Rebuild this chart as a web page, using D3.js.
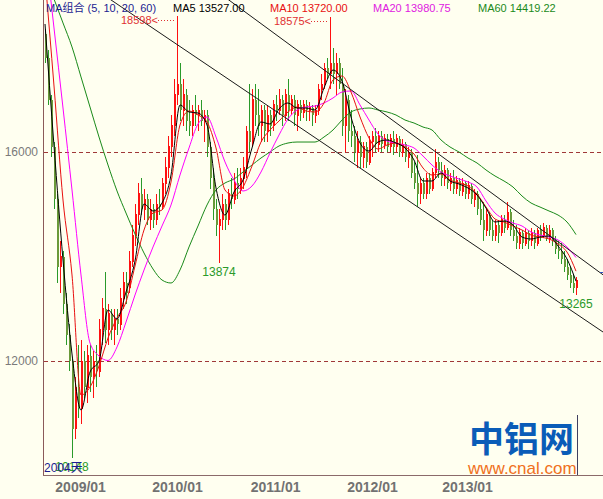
<!DOCTYPE html>
<html><head><meta charset="utf-8">
<script src="https://cdn.jsdelivr.net/npm/d3@7"></script>
<style>
html,body{margin:0;padding:0;background:#fffff0;}
svg{display:block;}
text{font-family:"Liberation Sans",Arial,"Noto Sans CJK SC",sans-serif;}
</style></head><body>
<svg id="c" width="603" height="499"></svg>
<script>
// ---- data (bars are compressed periods) ----
const openP=[18250,17800,17000,16100,15100,13800,14000,13100,12500,12000,
10700,11500,11100,12000,11500,12100,11700,12000,11800,12600,
13000,12600,12900,12600,12800,12700,13200,13500,13400,13900,
14400,14800,15200,14900,15100,14700,14900,14700,15000,14950,
15400,15700,16100,16500,17100,17300,16800,17100,16600,16500,
16800,16700,16800,16600,16700,16100,15500,14900,14600,14700,
15000,14700,15200,15100,15400,15300,15500,15700,16400,16200,
17000,16700,16500,16800,16400,16700,16500,16900,16800,17000,
16700,17100,16800,17000,16700,16900,16750,16900,16800,16850,
16700,16800,17200,17300,17600,17500,17700,17500,17700,17300,
16500,17000,16400,16300,16000,16200,15900,16100,15800,16200,
16300,16150,16300,16150,16250,16100,16250,16100,16250,16000,
16150,15900,16000,15600,15400,15200,15400,15200,15500,15300,
15600,15800,15650,15500,15650,15400,15500,15300,15450,15250,
15400,15200,15350,15100,15200,14900,14700,14500,14800,14500,
14400,14600,14450,14700,14550,14850,14500,14400,14250,14450,
14250,14450,14300,14450,14250,14500,14400,14550,14350,14500,
14300,14150,14100,13950,13800,13650,13500,13400];
const highP=[18350,17950,17100,16200,15200,14300,14100,13300,12700,12050,
11700,12300,12400,12200,12300,12300,12200,12300,12800,13200,
13700,13100,13000,13000,13000,13400,13700,13700,14100,14600,
15000,15400,15500,15300,15200,15100,15000,15200,15300,15500,
15900,16300,16700,17400,18598,17700,17400,17200,17000,16900,
17100,16900,17000,16800,16800,16200,15700,15100,14900,15200,
15100,15300,15500,15600,15700,15700,15900,16500,17300,17200,
17300,17200,16900,16900,16900,16800,17000,17100,17200,17100,
17200,17400,17100,17100,17000,17000,17000,17000,16950,16900,
16900,17300,17500,17700,17800,18575,18000,17900,17800,17600,
17200,17100,16800,16500,16400,16300,16200,16200,16300,16400,
16450,16400,16400,16350,16350,16350,16400,16350,16300,16250,
16200,16100,16050,15800,15950,15500,15500,15600,15600,15700,
16050,15900,15800,15750,15700,15600,15650,15550,15500,15500,
15450,15450,15400,15300,15250,15100,15050,14900,14850,14700,
14700,14700,14800,14800,15050,14900,14700,14600,14550,14500,
14550,14500,14550,14500,14550,14600,14650,14600,14600,14550,
14400,14300,14250,14100,13950,13800,13650,13600];
const lowP=[17700,16900,15900,14900,13500,13300,12900,12300,11800,10148,
10500,10900,10800,11300,11200,11400,11300,11500,11700,12300,
12350,12300,12400,12300,12500,12600,13000,13100,13300,13800,
14200,14600,14800,14700,14600,14500,14550,14600,14800,14900,
15200,15500,15900,16300,16900,16600,16500,16400,16300,16300,
16500,16400,16500,16200,15900,15300,14700,14400,13874,14500,
14500,14600,14900,15000,15100,15200,15300,15500,16000,16100,
16500,16300,16200,16200,16200,16300,16400,16600,16700,16500,
16600,16600,16700,16500,16400,16600,16650,16600,16600,16500,
16550,16700,17000,17200,17400,17200,17300,17100,17200,16300,
16000,16200,16100,15800,15700,15700,15700,15700,15750,15900,
16000,16000,16000,16050,16000,16000,15950,16000,15900,15900,
15800,15700,15500,15300,14950,15000,15100,15100,15200,15250,
15500,15500,15350,15350,15300,15250,15200,15200,15150,15150,
15100,15100,15000,14950,14800,14600,14300,14400,14400,14300,
14300,14250,14400,14450,14500,14400,14300,14150,14150,14150,
14200,14150,14200,14150,14200,14300,14350,14300,14250,14200,
14050,13950,13850,13700,13550,13400,13300,13265];
const closeP=[17800,17000,16100,15100,13800,14000,13100,12500,12000,10700,
11500,11100,12000,11500,12100,11700,12000,11800,12600,13000,
12600,12900,12600,12800,12700,13200,13500,13300,13900,14400,
14800,15200,14900,15100,14700,14900,14700,15000,14950,15400,
15700,16100,16500,17100,17300,16800,17100,16600,16500,16800,
16700,16800,16600,16700,16100,15500,14900,14600,14700,15000,
14700,15200,15100,15400,15300,15500,15700,16400,16200,17000,
16700,16500,16800,16400,16700,16500,16900,16800,17000,16700,
17100,16800,17000,16700,16900,16750,16900,16800,16850,16700,
16800,17200,17300,17600,17500,17700,17500,17700,17300,16500,
17000,16400,16300,16000,16200,15900,16100,15800,16200,16300,
16150,16300,16150,16250,16100,16250,16100,16250,16000,16150,
15900,16000,15600,15400,15200,15400,15200,15500,15300,15600,
15800,15650,15500,15650,15400,15500,15300,15450,15250,15400,
15200,15350,15100,15200,14900,14700,14500,14800,14500,14400,
14600,14450,14700,14550,14850,14500,14400,14250,14450,14250,
14450,14300,14450,14250,14500,14400,14550,14350,14500,14300,
14150,14100,13950,13800,13650,13500,13400,13550];

// moving averages, sampled every 3 bars
const maStride=3;
const ma5=[18450,16115,13933,12134,11062,11789,12000,12976,12804,13320,13914,15005,14871,15024,15560,16900,16766,16746,16517,15311,14794,15234,15464,16077,16574,16536,16823,16938,16842,16842,16804,17225,17569,17359,16670,16172,16019,16191,16230,16172,16077,15847,15445,15445,15598,15445,15388,15311,15177,14928,14660,14679,14603,14373,14335,14373,14392,14201,13952,13527.00];
const ma10=[19350,17263,15081,13646,11349,11502,11904,12440,12823,13129,13818,14507,14832,14890,15426,16517,16785,16708,16574,16077,15273,15158,15330,15732,16191,16421,16593,16766,16861,16785,16766,16938,17378,17455,17148,16670,16268,16057,16134,16172,16096,15962,15694,15560,15579,15464,15407,15349,15196,14947,14718,14660,14584,14507,14411,14373,14335,14239,14086,13720.00];
const ma20=[19900,18373,16842,15273,13646,12344,12096,12010,12268,12746,13263,13741,14182,14584,14986,15560,16077,16536,16670,16287,15809,15464,15254,15349,15617,15981,16325,16632,16804,16861,16880,16938,17034,17148,17168,16900,16612,16345,16211,16172,16134,16077,15923,15751,15617,15541,15483,15426,15330,15062,14832,14718,14641,14584,14469,14411,14373,14316,14182,13980.75];
const ma60=[19390,18928,18469,18010,17436,16861,16287,15751,15254,14832,14431,14067,13761,13550,13493,13742,14182,14584,14986,15273,15407,15483,15617,15751,15885,16000,16115,16172,16191,16191,16191,16287,16421,16612,16766,16823,16842,16804,16766,16708,16612,16555,16478,16421,16230,16096,16000,15885,15790,15656,15541,15445,15330,15158,15024,14947,14871,14794,14660,14419.22];
const maNames=["MA5","MA10","MA20","MA60"];

const tickLabels=["2009/01","2010/01","2011/01","2012/01","2013/01"];
const tickBars=[11.7,44,76.7,109,140.7];
const priceTicks=[12000,16000];
const highMarks=[44,95];
const lowMarks=[9,58,177];
// hand-drawn channel lines: [bar, price] end points
const channelA=[[0,19763],[186,12555]];
const channelB=[[0,21493],[186,13650]];
const titleLabel="MA组合 (5, 10, 20, 60)";
const periodLabel="2004天";

// ---- drawing ----
const svg=d3.select("#c");
const N=closeP.length;
const pL=43, pR=603, pT=0, pB=475;
const x=d3.scaleLinear().domain([0,N-1]).range([45,576]);
const y=d3.scaleLinear().domain([12000,16000]).range([361,152]);

svg.append("rect").attr("width",603).attr("height",499).attr("fill","#fffff0");
svg.append("defs").append("clipPath").attr("id","clip")
  .append("rect").attr("x",pL+1).attr("y",pT).attr("width",pR-pL-1).attr("height",pB-pT);

const plot=svg.append("g").attr("clip-path","url(#clip)");

// dashed grid
plot.selectAll("line.grid").data(priceTicks).join("line")
  .attr("x1",pL+1).attr("x2",pR)
  .attr("y1",d=>Math.round(y(d))+0.5).attr("y2",d=>Math.round(y(d))+0.5)
  .attr("stroke","#a03838").attr("stroke-dasharray","4,3");

// candles
const RED="#ff1010", GREEN="#2a9a2a";
const bars=d3.range(N).map(i=>({i,o:openP[i],h:highP[i],l:lowP[i],c:closeP[i]}));
const cg=plot.append("g").attr("shape-rendering","crispEdges");
cg.selectAll("line").data(bars).join("line")
  .attr("x1",d=>Math.round(x(d.i))+0.5).attr("x2",d=>Math.round(x(d.i))+0.5)
  .attr("y1",d=>y(d.h)).attr("y2",d=>y(d.l))
  .attr("stroke",d=>d.c>=d.o?RED:GREEN);
cg.selectAll("rect").data(bars).join("rect")
  .attr("x",d=>Math.round(x(d.i))+(d.c>=d.o?0.5:0))
  .attr("width",d=>d.c>=d.o?1:2)
  .attr("y",d=>y(Math.max(d.o,d.c)))
  .attr("height",d=>Math.max(1,Math.abs(y(d.o)-y(d.c))))
  .attr("fill",d=>d.c>=d.o?"none":"#6a9a3a")
  .attr("stroke",d=>d.c>=d.o?RED:"none");

// moving averages
const maColors={MA5:"#000000",MA10:"#e81010",MA20:"#ff00ff",MA60:"#1a8a1a"};
const maByName={MA5:ma5,MA10:ma10,MA20:ma20,MA60:ma60};
const line=d3.line().x((d,j)=>x(j*maStride)).y(d=>y(d)).curve(d3.curveMonotoneX);
["MA60","MA20","MA10","MA5"].forEach(n=>{
  plot.append("path").datum(maByName[n]).attr("d",line)
    .attr("fill","none").attr("stroke",maColors[n]).attr("stroke-width",1);
});

// channel lines
[channelA,channelB].forEach(c=>{
  plot.append("line")
    .attr("x1",x(c[0][0])).attr("y1",y(c[0][1]))
    .attr("x2",x(c[1][0])).attr("y2",y(c[1][1]))
    .attr("stroke","#1a1a1a").attr("stroke-width",1);
});

// axes lines
svg.append("line").attr("x1",pL+0.5).attr("x2",pL+0.5).attr("y1",pT).attr("y2",pB+0.5)
  .attr("stroke","#8b5a5a");
svg.append("line").attr("x1",pL).attr("x2",pR).attr("y1",pB+0.5).attr("y2",pB+0.5)
  .attr("stroke","#8b6a6a");

// x axis labels
const xa=svg.append("g").attr("transform",`translate(0,${pB})`)
  .call(d3.axisBottom(x).tickValues(tickBars).tickFormat((d,i)=>tickLabels[i]).tickSize(0).tickPadding(7));
xa.select(".domain").remove();
xa.selectAll("text").attr("font-size",14).attr("font-weight","bold").attr("fill","#727272")
  .attr("font-family","Liberation Sans, Arial, sans-serif");

// y axis labels
const ya=svg.append("g").attr("transform",`translate(${pL},0)`)
  .call(d3.axisLeft(y).tickValues(priceTicks).tickFormat(d3.format("d")).tickSize(0).tickPadding(5));
ya.select(".domain").remove();
ya.selectAll("text").attr("font-size",12).attr("fill","#7a7a7a")
  .attr("font-family","Liberation Sans, Arial, sans-serif");

// legend text
svg.append("text").attr("x",46).attr("y",12).attr("font-size",11).attr("fill","#1c1c90").text(titleLabel);
const legendX={MA5:173,MA10:270,MA20:373,MA60:478};
const legendColors={MA5:"#000000",MA10:"#e81010",MA20:"#e020e0",MA60:"#1a8a1a"};
const fmt=d3.format(".2f");
maNames.forEach(n=>{
  const arr=maByName[n];
  svg.append("text").attr("x",legendX[n]).attr("y",12).attr("font-size",11)
    .attr("fill",legendColors[n]).text(n+" "+fmt(arr[arr.length-1]));
});

// high markers
highMarks.forEach(i=>{
  const bx=Math.round(x(i)), by=y(highP[i]);
  svg.append("text").attr("x",bx-19).attr("y",by+8).attr("font-size",11)
    .attr("text-anchor","end").attr("fill","#e03030").text(highP[i]+"<");
  svg.append("line").attr("x1",bx-19).attr("x2",bx-1).attr("y1",Math.round(by+4)+0.5).attr("y2",Math.round(by+4)+0.5)
    .attr("stroke","#e03030").attr("stroke-dasharray","1,2");
});
// low markers
lowMarks.forEach(i=>{
  svg.append("text").attr("x",x(i)).attr("y",y(lowP[i])+13).attr("font-size",12)
    .attr("text-anchor","middle").attr("fill","#2a9a2a").text(lowP[i]);
});
svg.append("text").attr("x",44).attr("y",472).attr("font-size",12).attr("fill","#1c1c90").text(periodLabel);

// watermark
svg.append("text").attr("x",469).attr("y",452).attr("font-size",35).attr("font-weight","bold")
  .attr("font-family","Noto Sans CJK SC, sans-serif").attr("fill","#0a5cb8").text("中铝网");
svg.append("text").attr("x",468).attr("y",474).attr("font-size",17)
  .attr("fill","#f07020").text("www.cnal.com");
svg.append("line").attr("x1",577.5).attr("x2",577.5).attr("y1",415).attr("y2",475)
  .attr("stroke","#404060");
svg.append("line").attr("x1",600).attr("x2",603).attr("y1",272.5).attr("y2",272.5).attr("stroke","#3050c0");
</script>
</body></html>
